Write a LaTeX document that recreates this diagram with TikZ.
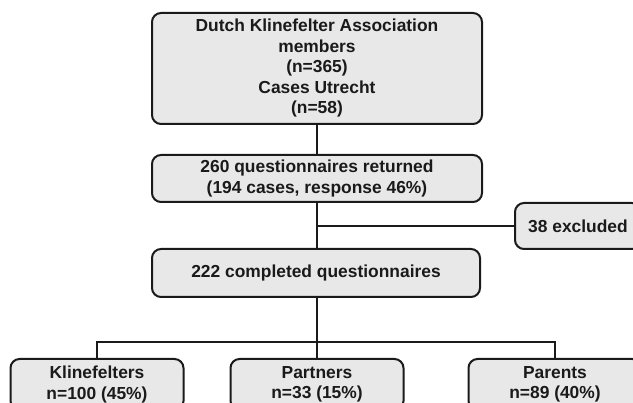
\documentclass[tikz,border=0pt]{standalone}
\usepackage{fontspec}
\setmainfont{Liberation Sans}
\definecolor{boxfill}{HTML}{E8E8E8}
\definecolor{ink}{HTML}{1A1A1A}
\begin{document}
\begin{tikzpicture}[x=1pt,y=1pt,
  fbox/.style={draw=ink, line width=2pt, fill=boxfill, rounded corners=9pt,
    align=center, inner sep=0pt, font=\fontsize{17.4}{20.5}\selectfont\bfseries, text=ink},
  link/.style={draw=ink, line width=2pt}]
\useasboundingbox (0,0) rectangle (633,-403);
\clip (0,0) rectangle (633,-403);
\node[fbox, minimum width=330, minimum height=111] (top) at (317,-68.5)
  {Dutch Klinefelter Association\\members\\(n=365)\\Cases Utrecht\\(n=58)};
\node[fbox, minimum width=330, minimum height=47] (ret) at (317,-178.5)
  {260 questionnaires returned\\(194 cases, response 46\%)};
\node[fbox, minimum width=328, minimum height=48] (comp) at (316,-273)
  {222 completed questionnaires};
\node[fbox, minimum width=126, minimum height=46] (exc) at (578,-226)
  {38 excluded};
\node[fbox, minimum width=173, minimum height=51] (kli) at (97,-384.5)
  {Klinefelters\\n=100 (45\%)};
\node[fbox, minimum width=173, minimum height=51] (par) at (317,-384.5)
  {Partners\\n=33 (15\%)};
\node[fbox, minimum width=173, minimum height=51] (pas) at (555,-384.5)
  {Parents\\n=89 (40\%)};
\coordinate (jx) at (ret.south |- exc.west);
\coordinate (jb) at (317,-342);
\draw[link] (top.south) -- (ret.north);
\draw[link] (ret.south) -- (comp.north -| ret.south);
\draw[link] (jx) -- (exc.west);
\draw[link] (comp.south -| jb) -- (jb);
\draw[link] (kli.north) |- (jb) -| (pas.north);
\draw[link] (jb) -- (par.north);
\end{tikzpicture}
\end{document}
